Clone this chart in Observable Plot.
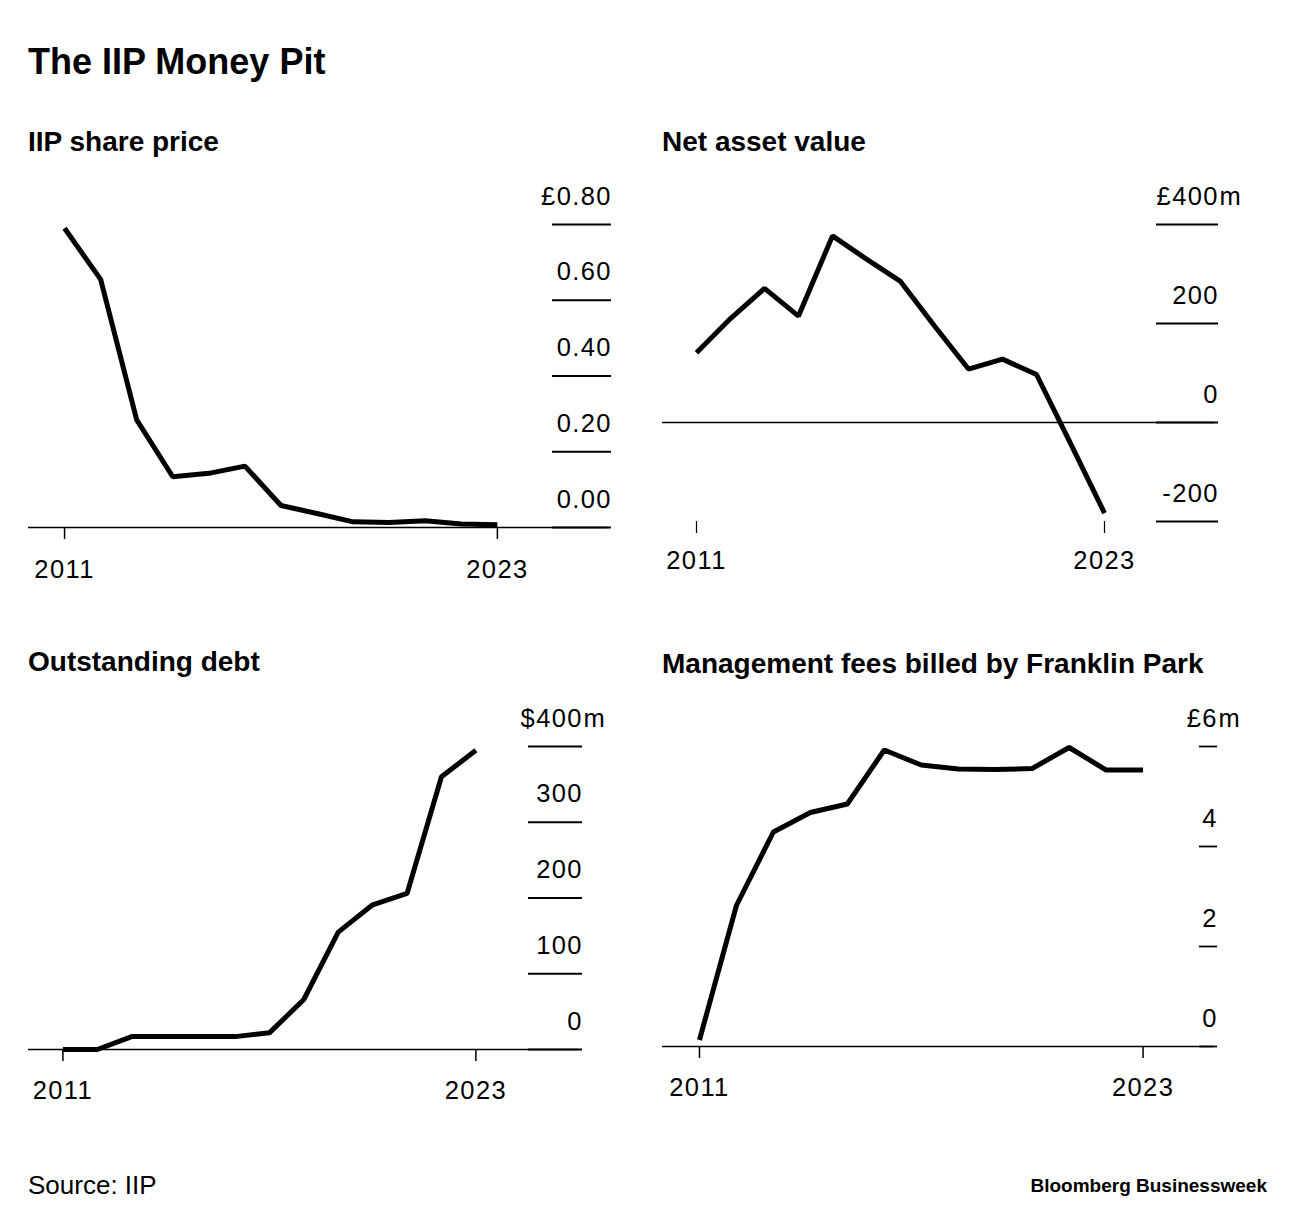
<!DOCTYPE html>
<html>
<head>
<meta charset="utf-8">
<script src="https://cdn.jsdelivr.net/npm/d3@7"></script>
<script src="https://cdn.jsdelivr.net/npm/@observablehq/plot@0.6"></script>
<style>
  html, body { margin: 0; padding: 0; background: #fff; }
  body { width: 1296px; height: 1226px; position: relative; font-family: "Liberation Sans", Arial, sans-serif; color: #000; overflow: hidden; }
  .abs { position: absolute; line-height: 1; white-space: nowrap; }
  #title { left: 28px; top: 44px; font-size: 36px; font-weight: 700; }
  .ptitle { font-size: 28px; font-weight: 700; }
  #source { left: 28px; top: 1172px; font-size: 26px; }
  #brand { right: 29px; top: 1176px; font-size: 19px; font-weight: 700; }
  .chart { position: absolute; }
  .chart svg { overflow: visible; }
  .chart svg text { letter-spacing: 1.4px; }
</style>
</head>
<body>
<div id="title" class="abs">The IIP Money Pit</div>
<div class="abs ptitle" style="left:28px;top:128px">IIP share price</div>
<div class="abs ptitle" style="left:662px;top:128px">Net asset value</div>
<div class="abs ptitle" style="left:28px;top:648px">Outstanding debt</div>
<div class="abs ptitle" style="left:662px;top:650px">Management fees billed by Franklin Park</div>
<div id="c1" class="chart" style="left:28px;top:170px"></div>
<div id="c2" class="chart" style="left:662px;top:170px"></div>
<div id="c3" class="chart" style="left:28px;top:692px"></div>
<div id="c4" class="chart" style="left:662px;top:692px"></div>
<div id="source" class="abs">Source: IIP</div>
<div id="brand" class="abs">Bloomberg Businessweek</div>
<script>
const years = [2011, 2012, 2013, 2014, 2015, 2016, 2017, 2018, 2019, 2020, 2021, 2022, 2023];
const xTicks = [2011, 2023];

// IIP share price (£)
const sharePrice = [0.79, 0.655, 0.284, 0.134, 0.143, 0.162, 0.058, 0.037, 0.015, 0.013, 0.018, 0.009, 0.007];
const sharePriceTicks = [0, 0.2, 0.4, 0.6, 0.8];
const sharePriceLabels = ["0.00", "0.20", "0.40", "0.60", "£0.80"];

// Net asset value (£m)
const nav = [141, 210, 271, 215, 377, 330, 285, 195, 108, 128, 97, -42, -183];
const navTicks = [-200, 0, 200, 400];
const navLabels = ["-200", "0", "200", "£400"];

// Outstanding debt ($m)
const debt = [0, 0, 17, 17, 17, 17, 22, 66, 155, 191, 206, 360, 395];
const debtTicks = [0, 100, 200, 300, 400];
const debtLabels = ["0", "100", "200", "300", "$400"];

// Management fees billed by Franklin Park (£m)
const fees = [0.13, 2.82, 4.29, 4.68, 4.85, 5.93, 5.63, 5.55, 5.54, 5.56, 5.98, 5.53, 5.53];
const feesTicks = [0, 2, 4, 6];
const feesLabels = ["0", "2", "4", "£6"];

function panel(el, cfg) {
  const data = years.map((y, i) => ({year: y, value: cfg.values[i]}));
  const tw = cfg.tickW;
  const extra = 32;
  const fmt = d => cfg.labels[cfg.ticks.indexOf(d)];
  const top = cfg.ticks[cfg.ticks.length - 1];
  const marks = [
    Plot.ruleY([0], {insetRight: -tw + 3, strokeWidth: 1.5}),
    Plot.axisY({anchor: "right", ticks: cfg.ticks, tickSize: tw, fill: "none", strokeWidth: 1.8, label: null}),
    Plot.axisY({anchor: "right", ticks: cfg.ticks, tickSize: 0, tickPadding: tw + 1.4, textAnchor: "end", dy: -28, tickFormat: fmt, label: null}),
    Plot.axisX({ticks: xTicks, tickSize: 12, tickPadding: cfg.xPad, tickFormat: d => String(d), strokeWidth: cfg.xStroke, label: null}),
    Plot.line(data, {x: "year", y: "value", stroke: "#000", strokeWidth: 5, strokeLinejoin: "miter", strokeLinecap: "butt"})
  ];
  if (cfg.suffix) {
    marks.push(Plot.text([top], {y: d => d, text: () => cfg.suffix, frameAnchor: "right", dx: tw + 2, dy: -28, textAnchor: "start"}));
  }
  const chart = Plot.plot({
    width: cfg.plotW + tw + extra,
    height: 54 + cfg.plotH + 60,
    marginLeft: 0,
    marginRight: tw + extra,
    marginTop: 54,
    marginBottom: 60,
    x: {domain: [2010, 2024.5], axis: null},
    y: {domain: [cfg.ticks[0], top], axis: null},
    style: {fontFamily: '"Liberation Sans", Arial, sans-serif', fontSize: "25.5px", color: "#000", background: "transparent", overflow: "visible"},
    marks
  });
  document.getElementById(el).appendChild(chart);
}

panel("c1", {values: sharePrice, ticks: sharePriceTicks, labels: sharePriceLabels, tickW: 59, plotW: 523, plotH: 303, xPad: 20, xStroke: 1.5});
panel("c2", {values: nav, ticks: navTicks, labels: navLabels, tickW: 62, plotW: 493, plotH: 297, xPad: 17, xStroke: 1.2, suffix: "m"});
panel("c3", {values: debt, ticks: debtTicks, labels: debtLabels, tickW: 54, plotW: 499, plotH: 303, xPad: 19, xStroke: 1.5, suffix: "m"});
panel("c4", {values: fees, ticks: feesTicks, labels: feesLabels, tickW: 18, plotW: 536, plotH: 300, xPad: 19, xStroke: 1.5, suffix: "m"});
</script>
</body>
</html>
